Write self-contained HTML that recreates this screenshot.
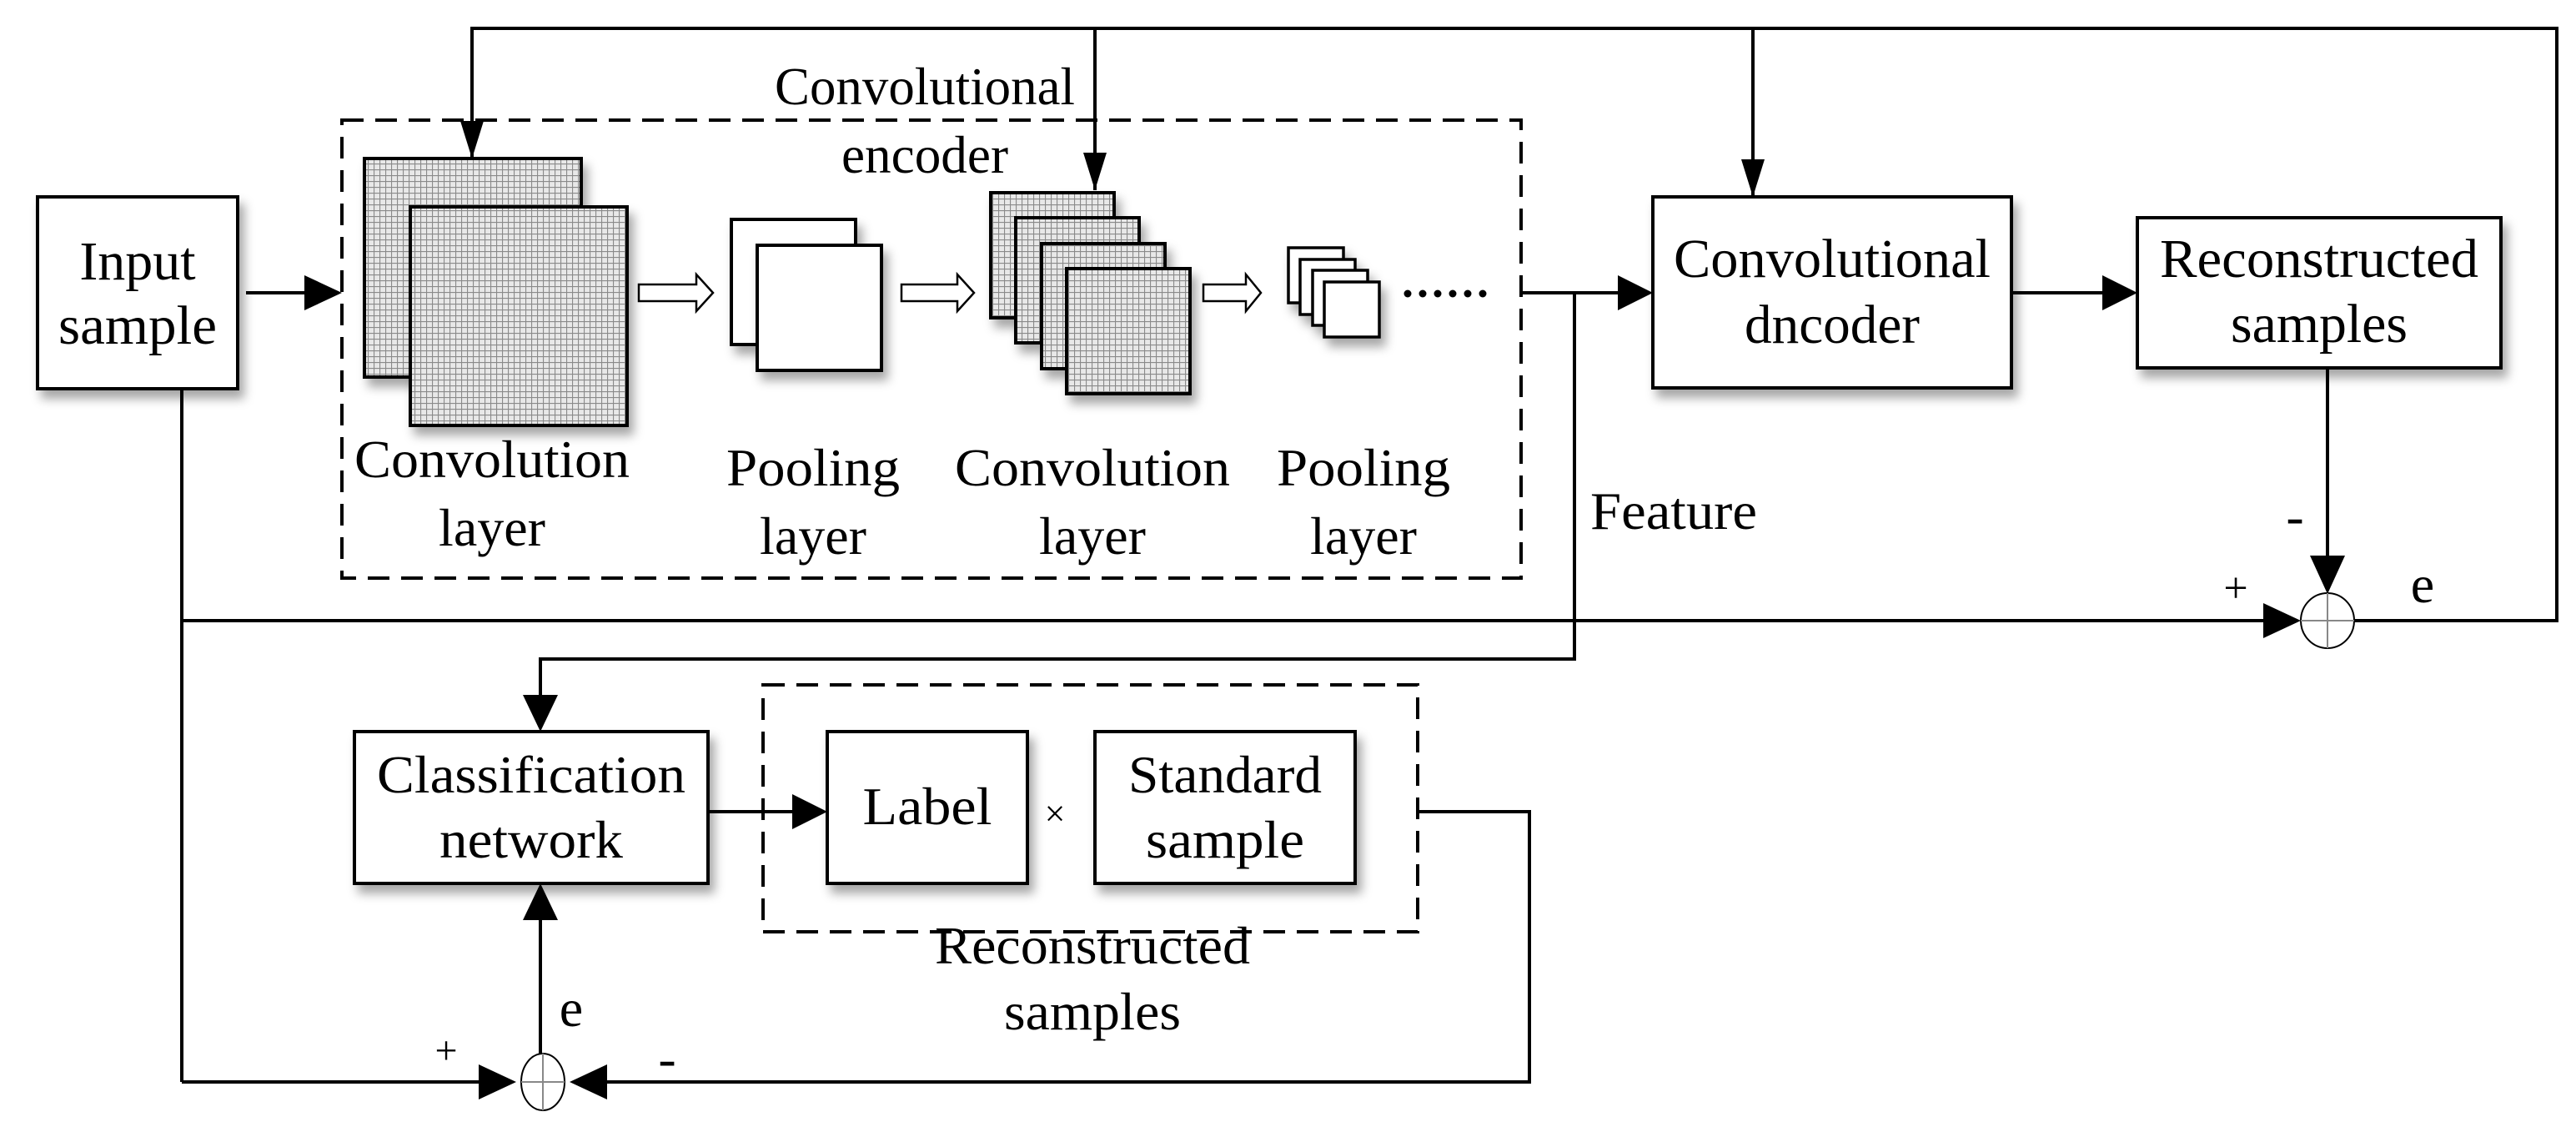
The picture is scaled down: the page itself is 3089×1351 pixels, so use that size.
<!DOCTYPE html>
<html><head><meta charset="utf-8"><style>html,body{margin:0;padding:0;background:#fff}svg{display:block}text{font-family:"Liberation Serif","Times New Roman",serif;fill:#000}</style></head><body>
<svg width="3089" height="1351" viewBox="0 0 3089 1351" xmlns="http://www.w3.org/2000/svg" font-family="Liberation Serif, serif">
<defs>
<pattern id="g" width="7" height="7" patternUnits="userSpaceOnUse"><rect width="7" height="7" fill="#e8e8e8"/><path d="M0 0.5H7M0.5 0V7" stroke="#8a8a8a" stroke-width="1.2"/></pattern>
<filter id="sh" x="-20%" y="-20%" width="150%" height="150%"><feDropShadow dx="6" dy="10" stdDeviation="6" flood-color="#000" flood-opacity="0.35"/></filter>
</defs>
<g fill="none" stroke="#000" stroke-width="4">
<polyline points="566,190 566,34 3066,34 3066,744 2823,744"/>
<line x1="1313" y1="34" x2="1313" y2="228"/>
<line x1="2102" y1="34" x2="2102" y2="236"/>
</g>
<g fill="#000">
<path d="M552 145L580 145L566 190z"/>
<path d="M1299 183L1327 183L1313 228z"/>
<path d="M2088 191L2116 191L2102 236z"/>
</g>
<rect x="410" y="144" width="1414" height="549" fill="none" stroke="#000" stroke-width="4" stroke-dasharray="26,14"/>
<g font-family="Liberation Serif, serif">
<text x="1109" y="125" font-size="64" text-anchor="middle" textLength="360" lengthAdjust="spacingAndGlyphs">Convolutional</text>
<text x="1109" y="207" font-size="64" text-anchor="middle" textLength="200" lengthAdjust="spacingAndGlyphs">encoder</text>
</g>
<rect x="45" y="236" width="240" height="230" fill="#fff" stroke="#000" stroke-width="4" filter="url(#sh)"/>
<text x="165" y="335" font-size="66" text-anchor="middle">Input</text>
<text x="165" y="412" font-size="66" text-anchor="middle" textLength="190" lengthAdjust="spacingAndGlyphs">sample</text>
<line x1="295" y1="351" x2="370" y2="351" stroke="#000" stroke-width="4"/>
<path d="M365 330L410 351L365 372z"/>
<rect x="437" y="190" width="260" height="262" fill="url(#g)" stroke="#000" stroke-width="4" filter="url(#sh)"/>
<rect x="492" y="248" width="260" height="262" fill="url(#g)" stroke="#000" stroke-width="4" filter="url(#sh)"/>
<g fill="#fff" stroke="#000" stroke-width="2.5">
<path d="M766 341H835V329L855 351L835 373V361H766z"/>
<path d="M1081 341H1148V329L1168 351L1148 373V361H1081z"/>
<path d="M1443 341H1494V329L1512 351L1494 373V361H1443z"/>
</g>
<rect x="877" y="263" width="149" height="150" fill="#fff" stroke="#000" stroke-width="4" filter="url(#sh)"/>
<rect x="908" y="294" width="149" height="150" fill="#fff" stroke="#000" stroke-width="4" filter="url(#sh)"/>
<g stroke="#000" stroke-width="4" fill="url(#g)" filter="url(#sh)">
<rect x="1188" y="231" width="148" height="150"/>
<rect x="1218" y="261" width="148" height="150"/>
<rect x="1249" y="292" width="148" height="150"/>
<rect x="1279" y="322" width="148" height="150"/>
</g>
<g stroke="#000" stroke-width="3.5" fill="#fff" filter="url(#sh)">
<rect x="1545" y="297" width="66" height="66"/>
<rect x="1559" y="311" width="66" height="66"/>
<rect x="1574" y="324" width="66" height="66"/>
<rect x="1588" y="338" width="66" height="66"/>
</g>
<g fill="#000"><circle cx="1688" cy="352" r="4.5"/><circle cx="1706" cy="352" r="4.5"/><circle cx="1724" cy="352" r="4.5"/><circle cx="1742" cy="352" r="4.5"/><circle cx="1760" cy="352" r="4.5"/><circle cx="1778" cy="352" r="4.5"/></g>
<g font-size="64" text-anchor="middle" lengthAdjust="spacingAndGlyphs">
<text x="590" y="572" textLength="330" lengthAdjust="spacingAndGlyphs">Convolution</text><text x="590" y="654">layer</text>
<text x="975" y="582" textLength="208" lengthAdjust="spacingAndGlyphs">Pooling</text><text x="975" y="664">layer</text>
<text x="1310" y="582" textLength="330" lengthAdjust="spacingAndGlyphs">Convolution</text><text x="1310" y="664">layer</text>
<text x="1635" y="582" textLength="208" lengthAdjust="spacingAndGlyphs">Pooling</text><text x="1635" y="664">layer</text>
</g>
<g fill="none" stroke="#000" stroke-width="4">
<line x1="1824" y1="351" x2="1945" y2="351"/>
<polyline points="1888,351 1888,790 648,790 648,835"/>
<line x1="2412" y1="351" x2="2525" y2="351"/>
<line x1="2791" y1="441" x2="2791" y2="670"/>
<line x1="218" y1="466" x2="218" y2="1297"/>
<line x1="218" y1="744" x2="2720" y2="744"/>
<line x1="218" y1="1297" x2="580" y2="1297"/>
<line x1="850" y1="973" x2="955" y2="973"/>
<polyline points="1700,973 1834,973 1834,1297 720,1297"/>
<line x1="648" y1="1265" x2="648" y2="1100"/>
</g>
<g fill="#000">
<path d="M1940 330L1982 351L1940 372z"/>
<path d="M2521 330L2563 351L2521 372z"/>
<path d="M2770 666L2812 666L2791 712z"/>
<path d="M2714 723L2759 744L2714 765z"/>
<path d="M627 833L669 833L648 877z"/>
<path d="M950 952L992 973L950 994z"/>
<path d="M627 1103L669 1103L648 1059z"/>
<path d="M574 1276L619 1297L574 1318z"/>
<path d="M728 1276L683 1297L728 1318z"/>
</g>
<rect x="1982" y="236" width="430" height="229" fill="#fff" stroke="#000" stroke-width="4" filter="url(#sh)"/>
<text x="2197" y="332" font-size="66" text-anchor="middle" textLength="380" lengthAdjust="spacingAndGlyphs">Convolutional</text>
<text x="2197" y="411" font-size="66" text-anchor="middle" textLength="210" lengthAdjust="spacingAndGlyphs">dncoder</text>
<rect x="2563" y="261" width="436" height="180" fill="#fff" stroke="#000" stroke-width="4" filter="url(#sh)"/>
<text x="2781" y="332" font-size="66" text-anchor="middle" textLength="382" lengthAdjust="spacingAndGlyphs">Reconstructed</text>
<text x="2781" y="410" font-size="66" text-anchor="middle" textLength="212" lengthAdjust="spacingAndGlyphs">samples</text>
<g fill="#fff" stroke="#000" stroke-width="2">
<ellipse cx="2791" cy="744" rx="32" ry="33"/>
<line x1="2759" y1="744" x2="2823" y2="744" stroke="#888"/><line x1="2791" y1="711" x2="2791" y2="777" stroke="#888"/>
<ellipse cx="651" cy="1297" rx="26" ry="34"/>
<line x1="625" y1="1297" x2="677" y2="1297" stroke="#888"/><line x1="651" y1="1263" x2="651" y2="1331" stroke="#888"/>
</g>
<text x="2681" y="722" font-size="52" text-anchor="middle">+</text>
<text x="2752" y="640" font-size="64" text-anchor="middle">-</text>
<text x="2905" y="722" font-size="64" text-anchor="middle">e</text>
<text x="1907" y="634" font-size="64" textLength="200" lengthAdjust="spacingAndGlyphs">Feature</text>
<rect x="425" y="877" width="424" height="182" fill="#fff" stroke="#000" stroke-width="4" filter="url(#sh)"/>
<text x="637" y="950" font-size="64" text-anchor="middle" textLength="370" lengthAdjust="spacingAndGlyphs">Classification</text>
<text x="637" y="1028" font-size="64" text-anchor="middle" textLength="220" lengthAdjust="spacingAndGlyphs">network</text>
<rect x="915" y="821" width="785" height="296" fill="none" stroke="#000" stroke-width="4" stroke-dasharray="26,14"/>
<rect x="992" y="877" width="240" height="182" fill="#fff" stroke="#000" stroke-width="4" filter="url(#sh)"/>
<text x="1112" y="988" font-size="64" text-anchor="middle" textLength="155" lengthAdjust="spacingAndGlyphs">Label</text>
<text x="1265" y="990" font-size="44" text-anchor="middle">×</text>
<rect x="1313" y="877" width="312" height="182" fill="#fff" stroke="#000" stroke-width="4" filter="url(#sh)"/>
<text x="1469" y="950" font-size="64" text-anchor="middle" textLength="232" lengthAdjust="spacingAndGlyphs">Standard</text>
<text x="1469" y="1028" font-size="64" text-anchor="middle" textLength="190" lengthAdjust="spacingAndGlyphs">sample</text>
<text x="1310" y="1155" font-size="64" text-anchor="middle" textLength="378" lengthAdjust="spacingAndGlyphs">Reconstructed</text>
<text x="1310" y="1234" font-size="64" text-anchor="middle" textLength="212" lengthAdjust="spacingAndGlyphs">samples</text>
<text x="685" y="1230" font-size="64" text-anchor="middle">e</text>
<text x="535" y="1275" font-size="48" text-anchor="middle">+</text>
<text x="800" y="1290" font-size="64" text-anchor="middle">-</text>
</svg>
</body></html>
